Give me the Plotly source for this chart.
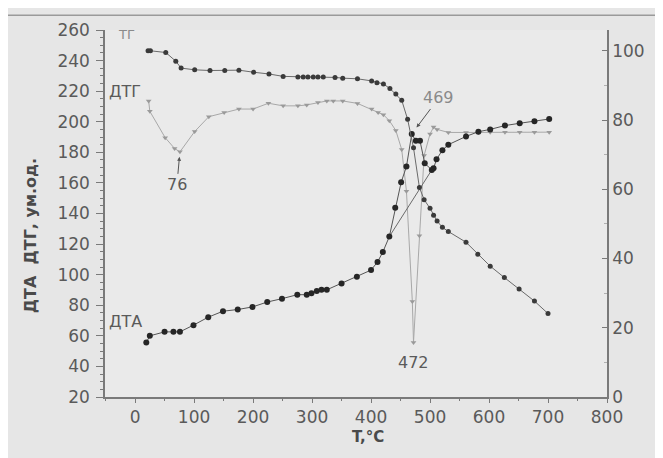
import plotly.graph_objects as go

# ---- data ----
tg_T = [22, 26, 52, 69, 78, 101, 127, 152, 176, 201, 227, 251, 276, 285, 293, 302, 310, 319,
        339, 352, 377, 401, 410, 421, 432, 442, 452, 462, 472, 482, 490, 500, 506, 512, 521,
        531, 561, 581, 602, 626, 651, 677, 700]
tg_v = [100, 100, 99.5, 97, 95, 94.5, 94.3, 94.3, 94.4, 93.8, 93.3, 92.6, 92.4, 92.4, 92.4,
        92.4, 92.4, 92.4, 92.3, 92.1, 91.9, 91.3, 90.8, 90.4, 89.1, 87.5, 85.7, 80.2, 72,
        60.5, 57, 54.5, 52.5, 50.8, 49, 47.8, 44.7, 41.2, 37.8, 34.5, 31.2, 27.7, 24.1]

dta_T = [19, 25, 50, 65, 76, 99, 124, 149, 174, 199, 224, 249, 275, 291, 299, 308, 316, 325,
         350, 376, 400, 411, 420, 431, 441, 451, 460, 469, 476, 483, 491, 503, 506, 511, 521,
         531, 561, 582, 602, 627, 652, 677, 702]
dta_v = [55.6, 60, 62.6, 62.6, 62.6, 67, 72.2, 76.1, 77.2, 78.9, 82.1, 84.3, 86.9, 86.9, 87.9,
         89.4, 90.1, 90.1, 94.3, 98.7, 103, 108.3, 114.8, 124.9, 143.8, 160.4, 170.7, 192,
         187.5, 187.5, 172.8, 168.5, 169.6, 175.4, 181.4, 185, 190.4, 193.5, 195, 197.5, 199,
         200.3, 201.8]

dtg_T = [23, 25, 51, 67, 76, 101, 125, 151, 176, 200, 226, 251, 276, 291, 310, 325, 336, 352,
         377, 401, 412, 421, 431, 442, 452, 460, 470, 472, 482, 490, 500, 506, 512, 531, 561,
         582, 602, 627, 652, 677, 702]
dtg_v = [213.6, 206.8, 189.6, 182.5, 180.3, 193.6, 203.3, 206.1, 208.3, 208.3, 212.1, 210.4,
         210.4, 211, 212.6, 213.6, 213.6, 213.6, 212, 208.3, 206.1, 204.6, 200.7, 194.3, 181.8,
         154.6, 82.5, 55.7, 125.5, 178, 192, 196.5, 195, 193, 193, 193, 193.2, 193.2, 193.2,
         193.2, 193.2]

x_ticks = [0, 100, 200, 300, 400, 500, 600, 700, 800]
left_ticks = [20, 40, 60, 80, 100, 120, 140, 160, 180, 200, 220, 240, 260]
right_ticks = [0, 20, 40, 60, 80, 100]

# baseline segment of the DTA peak (from the 431 point to the 503 point)
i_a, i_b = dta_T.index(431), dta_T.index(503)
base_T = [dta_T[i_a], dta_T[i_b]]
base_v = [dta_v[i_a], dta_v[i_b]]

FONT = "DejaVu Sans"
TXT = "#5a5a5a"
AX = "#7a7a7a"

fig = go.Figure()

fig.add_trace(go.Scatter(x=dtg_T, y=dtg_v, mode="lines+markers",
                         line=dict(color="#a8a8a8", width=1),
                         marker=dict(symbol="triangle-down", size=5, color="#9a9a9a"),
                         showlegend=False))
fig.add_trace(go.Scatter(x=base_T, y=base_v, mode="lines",
                         line=dict(color="#6a6a6a", width=1), showlegend=False))
fig.add_trace(go.Scatter(x=dta_T, y=dta_v, mode="lines+markers",
                         line=dict(color="#555555", width=1),
                         marker=dict(symbol="circle", size=6, color="#262626"),
                         showlegend=False))
fig.add_trace(go.Scatter(x=tg_T, y=tg_v, mode="lines+markers", yaxis="y2",
                         line=dict(color="#6a6a6a", width=1),
                         marker=dict(symbol="circle", size=5, color="#3a3a3a"),
                         showlegend=False))

fig.update_layout(
    width=663, height=458,
    margin=dict(l=97, r=64, t=18, b=69),
    paper_bgcolor="#e6e6e6", plot_bgcolor="#eaeaea",
    font=dict(family=FONT, size=17, color=TXT),
    xaxis=dict(range=[-51, 800], tickmode="array", tickvals=x_ticks,
               showgrid=False, zeroline=False, showline=True, linecolor=AX, linewidth=1.5,
               ticks="outside", ticklen=4, tickcolor=AX, tickwidth=1,
               minor=dict(dtick=50, tick0=0, ticks="outside", ticklen=2, tickcolor=AX, showgrid=False),
               tickfont=dict(size=17, color=TXT)),
    yaxis=dict(range=[20, 260], tickmode="array", tickvals=left_ticks,
               showgrid=False, zeroline=False, showline=True, linecolor=AX, linewidth=1.5,
               ticks="outside", ticklen=7, tickcolor=AX, tickwidth=1, ticklabelstandoff=3,
               minor=dict(dtick=5, tick0=0, ticks="outside", ticklen=3, tickcolor=AX, showgrid=False),
               tickfont=dict(size=17, color=TXT)),
    yaxis2=dict(range=[0, 106], tickmode="array", tickvals=right_ticks, overlaying="y", side="right",
                showgrid=False, zeroline=False, showline=True, linecolor=AX, linewidth=1.5,
                ticks="inside", ticklen=5, tickcolor=AX, tickwidth=1,
                minor=dict(dtick=10, tick0=0, ticks="inside", ticklen=3, tickcolor="#b0b0b0", showgrid=False),
                tickfont=dict(size=17, color=TXT)),
)

# scan frame
fig.add_shape(type="rect", xref="paper", yref="paper", x0=-0.199, x1=1.2, y0=-0.3, y1=1.0404,
              line=dict(color="#9a9a9a", width=1.5), fillcolor="rgba(0,0,0,0)", layer="below")

ann = []
# axis titles
ann.append(dict(xref="paper", yref="paper", x=0.524, y=-0.108, text="<b>T,°C</b>", showarrow=False,
                font=dict(size=15, color="#4a4a4a"), xanchor="center", yanchor="middle"))
ann.append(dict(xref="paper", yref="paper", x=-0.148, y=0.44, text="<b>ДТА  ДТГ, ум.од.</b>",
                textangle=-90, showarrow=False, font=dict(size=16, color="#4a4a4a"),
                xanchor="center", yanchor="middle"))
# series labels
ann.append(dict(xref="paper", yref="paper", x=0.022, y=0.988, text="ТГ", showarrow=False,
                font=dict(size=13, color="#8a8a8a"), xanchor="left", yanchor="middle"))
ann.append(dict(xref="paper", yref="paper", x=0.004, y=0.832, text="ДТГ", showarrow=False,
                font=dict(size=16, color=TXT), xanchor="left", yanchor="middle"))
ann.append(dict(xref="paper", yref="paper", x=0.004, y=0.205, text="ДТА", showarrow=False,
                font=dict(size=16, color=TXT), xanchor="left", yanchor="middle"))
# peak labels
ann.append(dict(x=76, y=180.3, xref="x", yref="y", text="76", showarrow=True, arrowhead=2,
                arrowsize=0.8, arrowwidth=1, arrowcolor="#555", ax=-3, ay=33, standoff=5,
                font=dict(size=16, color=TXT)))
ann.append(dict(x=469, y=192, xref="x", yref="y", text="469", showarrow=True, arrowhead=2,
                arrowsize=0.8, arrowwidth=1, arrowcolor="#555", ax=27, ay=-36, standoff=8,
                font=dict(size=16, color="#8a8a8a")))
ann.append(dict(x=472, y=55.7, xref="x", yref="y", text="472", showarrow=False, yshift=-20,
                font=dict(size=16, color=TXT)))
fig.update_layout(annotations=ann)

fig.write_html("out.html")
